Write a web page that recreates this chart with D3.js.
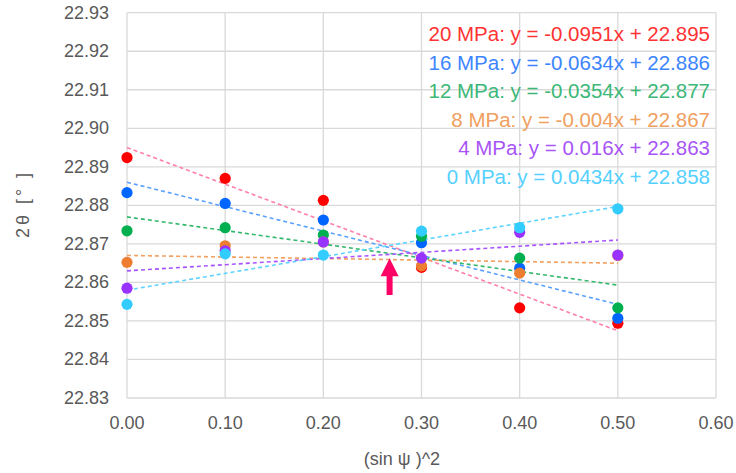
<!DOCTYPE html>
<html>
<head>
<meta charset="utf-8">
<title>2theta vs sin2psi</title>
<script src="https://d3js.org/d3.v7.min.js"></script>
<style>
  body { margin: 0; background: #fff; }
  text { font-family: "Liberation Sans", Arial, sans-serif; }
</style>
</head>
<body>
<script>
// sin^2 psi positions
var xs = [0, 0.1, 0.2, 0.3, 0.4, 0.5];

// 2theta readings per stress level
var mpa20 = [22.8924, 22.8870, 22.8813, 22.8639, 22.8534, 22.8494];
var mpa16 = [22.8833, 22.8805, 22.8762, 22.8703, 22.8637, 22.8507];
var mpa12 = [22.8734, 22.8742, 22.8723, 22.8720, 22.8663, 22.8534];
var mpa8  = [22.8652, 22.8695, 22.8705, 22.8643, 22.8624, 22.8670];
var mpa4  = [22.8585, 22.8682, 22.8705, 22.8663, 22.8730, 22.8671];
var mpa0  = [22.8543, 22.8674, 22.8671, 22.8733, 22.8742, 22.8791];

var seriesNames = ["20 MPa", "16 MPa", "12 MPa", "8 MPa", "4 MPa", "0 MPa"];
var slopes = [-0.0951, -0.0634, -0.0354, -0.004, 0.016, 0.0434];
var intercepts = [22.895, 22.886, 22.877, 22.867, 22.863, 22.858];
var slopeText = ["-0.0951", "-0.0634", "-0.0354", "-0.004", "0.016", "0.0434"];

var xTicks = [0, 0.1, 0.2, 0.3, 0.4, 0.5, 0.6];
var yTicks = [22.83, 22.84, 22.85, 22.86, 22.87, 22.88, 22.89, 22.90, 22.91, 22.92, 22.93];

// arrow annotation (data coords: x, tip y, tail y)
var arrowAt = [0.2675, 22.8663, 22.8567];

var dotColors  = ["#ff0000", "#0066ff", "#00b050", "#ed7d31", "#9933ff", "#33ccff"];
var lineColors = ["#ff7fa8", "#5aa0ff", "#33b86b", "#f4a060", "#a855ff", "#5fd3ff"];
var textColors = ["#ff3333", "#3d85ff", "#3cb878", "#f0a060", "#a855f7", "#55d0ff"];

var W = 736, H = 473;
var svg = d3.select("body").append("svg").attr("width", W).attr("height", H);

var x = d3.scaleLinear().domain([0, 0.6]).range([127, 716]);
var y = d3.scaleLinear().domain([22.83, 22.93]).range([398, 12.7]);

// grid
svg.append("g").selectAll("line.h").data(yTicks).enter().append("line")
  .attr("x1", x(0)).attr("x2", x(0.6))
  .attr("y1", function(d){ return y(d); }).attr("y2", function(d){ return y(d); })
  .attr("stroke", "#d9d9d9").attr("stroke-width", 1.3);
svg.append("g").selectAll("line.v").data(xTicks).enter().append("line")
  .attr("x1", function(d){ return x(d); }).attr("x2", function(d){ return x(d); })
  .attr("y1", y(22.83)).attr("y2", y(22.93))
  .attr("stroke", "#d9d9d9").attr("stroke-width", 1.3);

// tick labels
svg.append("g").selectAll("text").data(yTicks).enter().append("text")
  .attr("x", 109).attr("y", function(d){ return y(d) + 6; })
  .attr("text-anchor", "end").attr("font-size", 18).attr("fill", "#595959")
  .text(function(d){ return d.toFixed(2); });
svg.append("g").selectAll("text").data(xTicks).enter().append("text")
  .attr("x", function(d){ return x(d); }).attr("y", 429)
  .attr("text-anchor", "middle").attr("font-size", 18).attr("fill", "#595959")
  .text(function(d){ return d.toFixed(2); });

// axis titles
svg.append("text").attr("x", 402).attr("y", 465).attr("text-anchor", "middle")
  .attr("font-size", 18).attr("fill", "#595959").attr("xml:space", "preserve")
  .text("(sin \u03C8 )^2");
svg.append("text").attr("transform", "translate(29,204) rotate(-90)")
  .attr("text-anchor", "middle").attr("font-size", 18).attr("fill", "#595959")
  .attr("letter-spacing", 3)
  .text("2\u03B8 [\u00B0 ]");

var all = [mpa20, mpa16, mpa12, mpa8, mpa4, mpa0];

// trendlines
all.forEach(function(s, i){
  svg.append("line")
    .attr("x1", x(0)).attr("y1", y(intercepts[i]))
    .attr("x2", x(0.5)).attr("y2", y(intercepts[i] + slopes[i] * 0.5))
    .attr("stroke", lineColors[i]).attr("stroke-width", 1.6)
    .attr("stroke-dasharray", "4,3");
});

// points
all.forEach(function(s, i){
  svg.append("g").selectAll("circle").data(s).enter().append("circle")
    .attr("cx", function(d, j){ return x(xs[j]); })
    .attr("cy", function(d){ return y(d); })
    .attr("r", 5.6).attr("fill", dotColors[i]);
});

// equations
svg.append("g").selectAll("text").data(seriesNames).enter().append("text")
  .attr("x", 710).attr("y", function(d, i){ return 41 + i * 28.5; })
  .attr("text-anchor", "end").attr("font-size", 20.5)
  .attr("fill", function(d, i){ return textColors[i]; })
  .text(function(d, i){
    return d + ": y = " + slopeText[i] + "x + " + intercepts[i].toFixed(3);
  });

// arrow
var ax = x(arrowAt[0]), tip = y(arrowAt[1]), tail = y(arrowAt[2]);
svg.append("path")
  .attr("d", "M" + ax + "," + tip + " L" + (ax + 9) + "," + (tip + 18) + " L" + (ax + 3) + "," + (tip + 18) +
    " L" + (ax + 3) + "," + tail + " L" + (ax - 3) + "," + tail + " L" + (ax - 3) + "," + (tip + 18) +
    " L" + (ax - 9) + "," + (tip + 18) + " Z")
  .attr("fill", "#ff0066");
</script>
</body>
</html>
